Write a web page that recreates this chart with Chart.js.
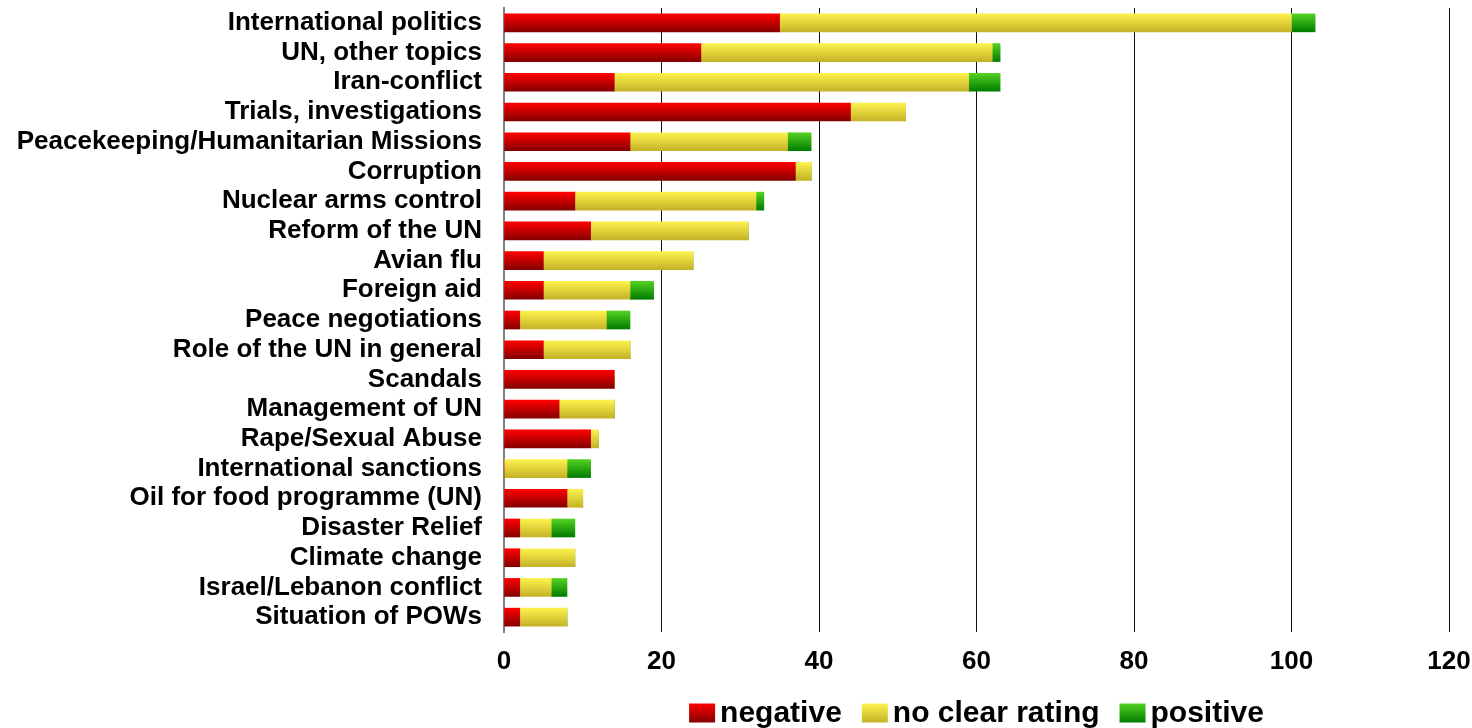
<!DOCTYPE html>
<html>
<head>
<meta charset="utf-8">
<script src="https://cdn.jsdelivr.net/npm/chart.js@4/dist/chart.umd.min.js"></script>
<style>
  html, body { margin: 0; padding: 0; background: #fff; }
  #wrap { width: 1472px; height: 728px; position: relative; }
</style>
</head>
<body>
<div id="wrap"><canvas id="c" width="1472" height="728"></canvas></div>
<script>
const categories = [
  "International politics", "UN, other topics", "Iran-conflict", "Trials, investigations",
  "Peacekeeping/Humanitarian Missions", "Corruption", "Nuclear arms control", "Reform of the UN",
  "Avian flu", "Foreign aid", "Peace negotiations", "Role of the UN in general", "Scandals",
  "Management of UN", "Rape/Sexual Abuse", "International sanctions", "Oil for food programme (UN)",
  "Disaster Relief", "Climate change", "Israel/Lebanon conflict", "Situation of POWs"
];
const negative      = [35, 25, 14, 44, 16, 37,  9, 11,  5,  5,  2,  5, 14, 7, 11, 0, 8, 2, 2, 2, 2];
const noClearRating = [65, 37, 45,  7, 20,  2, 23, 20, 19, 11, 11, 11,  0, 7,  1, 8, 2, 4, 7, 4, 6];
const positive      = [ 3,  1,  4,  0,  3,  0,  1,  0,  0,  3,  3,  0,  0, 0,  0, 3, 0, 3, 0, 2, 0];
const seriesNames = ["negative", "no clear rating", "positive"];
const xTicks = [0, 20, 40, 60, 80, 100, 120];

const BAR = 18;
const FONT = "'Liberation Sans', Arial, sans-serif";
const palettes = [
  ["#ff0000", "#850000"],
  ["#fcf24e", "#c6b226"],
  ["#55d022", "#007e00"]
];

// Scriptable so each bar gets its own options object; gradient applied before drawing.
function baseFill(pal) {
  return (ctx) => pal[0];
}

const gradientPlugin = {
  id: 'barGradient',
  beforeDatasetsDraw(chart) {
    const ctx = chart.ctx;
    chart.data.datasets.forEach((ds, di) => {
      const meta = chart.getDatasetMeta(di);
      const pal = palettes[di];
      meta.data.forEach((el) => {
        const h = el.height || BAR;
        if (!isFinite(el.y)) return;
        const g = ctx.createLinearGradient(0, el.y - h / 2, 0, el.y + h / 2);
        g.addColorStop(0, pal[0]);
        g.addColorStop(1, pal[1]);
        el.options.backgroundColor = g;
      });
    });
  }
};

const legendPlugin = {
  id: 'customLegend',
  afterDraw(chart) {
    const ctx = chart.ctx;
    ctx.save();
    ctx.font = "bold 30px " + FONT;
    ctx.textBaseline = 'middle';
    ctx.textAlign = 'left';
    const boxW = 26, boxH = 19, gapBT = 5, gapItem = 20;
    const widths = seriesNames.map(n => boxW + gapBT + ctx.measureText(n).width);
    const total = widths.reduce((a, b) => a + b, 0) + gapItem * (seriesNames.length - 1);
    const ca = chart.chartArea;
    let x = (ca.left + ca.right) / 2 - total / 2;
    const yMid = 713;
    seriesNames.forEach((n, i) => {
      const g = ctx.createLinearGradient(0, yMid - boxH / 2, 0, yMid + boxH / 2);
      g.addColorStop(0, palettes[i][0]);
      g.addColorStop(1, palettes[i][1]);
      ctx.fillStyle = g;
      ctx.fillRect(x, yMid - boxH / 2, boxW, boxH);
      ctx.fillStyle = '#000';
      ctx.fillText(n, x + boxW + gapBT, yMid + 1);
      x += widths[i] + gapItem;
    });
    ctx.restore();
  }
};

const datasets = [negative, noClearRating, positive].map((arr, i) => ({
  label: seriesNames[i],
  data: arr,
  backgroundColor: baseFill(palettes[i]),
  borderWidth: 0,
  barThickness: BAR
}));

new Chart(document.getElementById('c'), {
  type: 'bar',
  data: { labels: categories, datasets },
  options: {
    indexAxis: 'y',
    responsive: false,
    animation: false,
    devicePixelRatio: 1,
    layout: { padding: { top: 8, right: 23, bottom: 51, left: 0 } },
    plugins: {
      legend: { display: false },
      tooltip: { enabled: false }
    },
    scales: {
      x: {
        stacked: true,
        min: 0, max: 120,
        afterBuildTicks: (s) => { s.ticks = xTicks.map(v => ({ value: v })); },
        grid: {
          color: (c) => c.tick && c.tick.value === 0 ? 'rgba(0,0,0,0)' : '#111',
          lineWidth: 1,
          drawTicks: false
        },
        border: { display: false },
        ticks: {
          font: { family: FONT, size: 26, weight: 'bold' },
          color: '#000',
          padding: 14,
          maxRotation: 0
        },
        afterFit: (s) => { s.height = 45; s.paddingLeft = 0; s.paddingRight = 0; }
      },
      y: {
        stacked: true,
        grid: { display: false, drawTicks: false },
        border: { display: true, color: '#808080', width: 2 },
        ticks: {
          font: { family: FONT, size: 26, weight: 'bold' },
          color: '#000',
          padding: 22,
          autoSkip: false
        },
        afterFit: (s) => { s.width = 504; s.paddingTop = 0; s.paddingBottom = 0; }
      }
    }
  },
  plugins: [gradientPlugin, legendPlugin]
});
</script>
</body>
</html>
